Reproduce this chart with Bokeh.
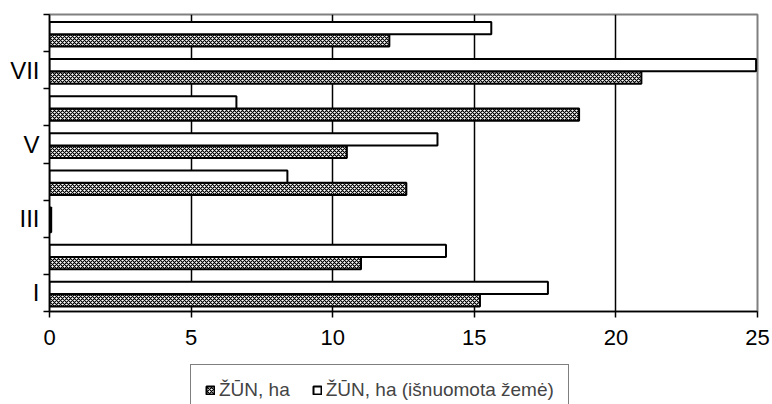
from bokeh.plotting import figure
from bokeh.models import ColumnDataSource, FixedTicker, Legend, LegendItem, Range1d
from bokeh.layouts import column
from bokeh.embed import file_html
from bokeh.resources import INLINE

# ---- data ----
categories = ["I", "II", "III", "IV", "V", "VI", "VII", "VIII"]
zun_ha = [15.2, 11.0, 0.06, 12.6, 10.5, 18.7, 20.9, 12.0]
zun_ha_isnuomota = [17.6, 14.0, 0.06, 8.4, 13.7, 6.6, 24.95, 15.6]
shown_labels = ["I", "III", "V", "VII"]
x_ticks = [0, 5, 10, 15, 20, 25]
series_names = ["ŽŪN, ha", "ŽŪN, ha (išnuomota žemė)"]

FONT = "Liberation Sans"
style_a = dict(fill_color="white", line_color="black", line_width=2,
               hatch_pattern="x", hatch_scale=4, hatch_weight=1.2, hatch_color="black")
style_b = dict(fill_color="white", line_color="black", line_width=2)

pos = list(range(len(categories)))
src = ColumnDataSource(dict(
    cat=categories,
    y_a=[i + 0.30 for i in pos],
    y_b=[i + 0.635 for i in pos],
    a=zun_ha,
    b=zun_ha_isnuomota,
))

p = figure(width=772, height=355, output_backend="svg", toolbar_location=None,
           x_range=Range1d(0, 25), y_range=Range1d(0, len(categories)),
           min_border_left=49, min_border_right=15, min_border_top=14, min_border_bottom=44)
p.background_fill_color = "white"
p.border_fill_color = "white"
p.outline_line_color = "#808080"
p.outline_line_width = 2

p.hbar(y="y_a", right="a", left=0, height=0.33, source=src, **style_a)
p.hbar(y="y_b", right="b", left=0, height=0.33, source=src, **style_b)

# x axis
p.xaxis.ticker = FixedTicker(ticks=x_ticks, minor_ticks=[])
p.xaxis.major_label_text_font = FONT
p.xaxis.major_label_text_font_size = "22px"
p.xaxis.major_label_text_color = "black"
p.xaxis.axis_line_color = "black"
p.xaxis.axis_line_width = 1.5
p.xaxis.major_tick_out = 6
p.xaxis.major_tick_in = 0
p.xaxis.major_tick_line_width = 1.5
p.xaxis.major_label_standoff = 12

# y axis
label_pos = [categories.index(l) + 0.5 for l in shown_labels]
p.yaxis.ticker = FixedTicker(ticks=label_pos, minor_ticks=list(range(len(categories) + 1)))
p.yaxis.major_label_overrides = {lp: l for lp, l in zip(label_pos, shown_labels)}
p.yaxis.major_label_text_font = FONT
p.yaxis.major_label_text_font_size = "24px"
p.yaxis.major_label_text_color = "black"
p.yaxis.axis_line_color = "black"
p.yaxis.axis_line_width = 1.5
p.yaxis.major_tick_out = 0
p.yaxis.major_tick_in = 0
p.yaxis.minor_tick_out = 6
p.yaxis.minor_tick_in = 0
p.yaxis.minor_tick_line_color = "black"
p.yaxis.minor_tick_line_width = 1.5
p.yaxis.major_label_standoff = 4

# grid
p.xgrid.ticker = FixedTicker(ticks=x_ticks[1:-1])
p.xgrid.grid_line_color = "black"
p.xgrid.grid_line_width = 1.5
p.ygrid.grid_line_color = None

# legend strip: hidden copies of the two bar series supply the legend swatches
p2 = figure(width=772, height=49, output_backend="svg", toolbar_location=None,
            x_range=Range1d(0, 25), y_range=Range1d(0, len(categories)),
            x_axis_location=None, y_axis_location=None,
            min_border_left=0, min_border_right=0, min_border_top=0, min_border_bottom=0)
p2.grid.visible = False
p2.outline_line_color = None
p2.background_fill_color = "white"
p2.border_fill_color = "white"
la = p2.hbar(y="y_a", right="a", left=0, height=0.33, source=src, visible=False, **style_a)
lb = p2.hbar(y="y_b", right="b", left=0, height=0.33, source=src, visible=False, **style_b)

legend = Legend(items=[LegendItem(label=series_names[0], renderers=[la]),
                       LegendItem(label=series_names[1], renderers=[lb])],
                orientation="horizontal", location=(141, -12),
                label_text_font=FONT, label_text_font_size="19px",
                glyph_width=10, glyph_height=10, label_standoff=4, spacing=22,
                padding=14, margin=0, label_height=22,
                border_line_color="black", border_line_width=1.5,
                background_fill_color="white", background_fill_alpha=1)
p2.add_layout(legend)

layout = column(p, p2, spacing=0)
open("out.html", "w").write(file_html(layout, INLINE))
